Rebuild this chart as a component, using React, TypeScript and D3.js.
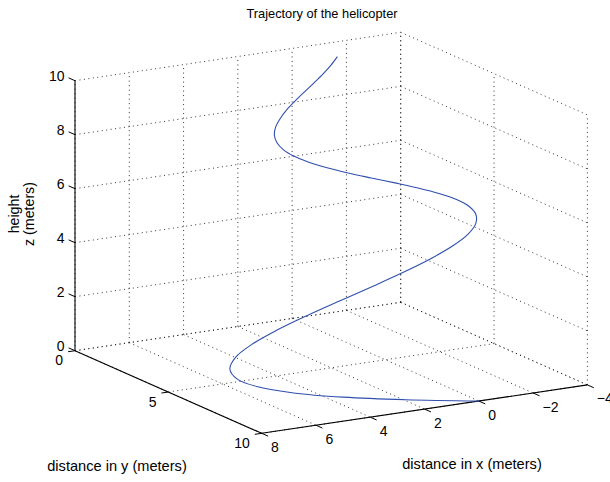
import React, { useRef, useEffect } from "react";
import * as d3 from "d3";

// trajectory samples (t = 0 .. 10, step 0.25)
const zHeight = [
  0, 0.25, 0.5, 0.75, 1, 1.25, 1.5, 1.75, 2, 2.25, 2.5, 2.75, 3, 3.25, 3.5,
  3.75, 4, 4.25, 4.5, 4.75, 5, 5.25, 5.5, 5.75, 6, 6.25, 6.5, 6.75, 7, 7.25,
  7.5, 7.75, 8, 8.25, 8.5, 8.75, 9, 9.25, 9.5, 9.75, 10,
];
const xDist = [
  0, 2.353, 4.338, 5.867, 6.889, 7.391, 7.39, 6.934, 6.095, 4.961, 3.63,
  2.202, 0.774, -0.565, -1.742, -2.7, -3.401, -3.825, -3.974, -3.865, -3.528,
  -3.006, -2.349, -1.609, -0.842, -0.095, 0.586, 1.167, 1.62, 1.93, 2.093,
  2.114, 1.998, 1.765, 1.459, 1.082, 0.681, 0.274, -0.112, -0.453, -0.736,
];
const yDist = [
  10, 9.512, 9.048, 8.607, 8.187, 7.788, 7.408, 7.047, 6.703, 6.376, 6.065,
  5.77, 5.488, 5.221, 4.966, 4.724, 4.493, 4.274, 4.066, 3.867, 3.679, 3.499,
  3.329, 3.166, 3.012, 2.865, 2.725, 2.592, 2.466, 2.346, 2.231, 2.123, 2.019,
  1.921, 1.827, 1.738, 1.653, 1.572, 1.496, 1.423, 1.353,
];

const xTicks = [8, 6, 4, 2, 0, -2, -4];
const yTicks = [0, 5, 10];
const zTicks = [0, 2, 4, 6, 8, 10];

const fmt = (v: number) => (v < 0 ? "\u2212" + Math.abs(v) : String(v));

const App: React.FC = () => {
  const ref = useRef<SVGSVGElement | null>(null);

  useEffect(() => {
    if (!ref.current) return;
    const svg = d3.select(ref.current);
    svg.selectAll("*").remove();

    const width = 610;
    const height = 482;
    svg.attr("width", width).attr("height", height);

    // each axis maps to a fraction of its box edge
    const xs = d3.scaleLinear().domain([8, -4]).range([0, 1]);
    const ys = d3.scaleLinear().domain([0, 10]).range([0, 1]);
    const zs = d3.scaleLinear().domain([0, 10]).range([0, 1]);

    // box corner (x=8, y=0, z=0) and edge vectors on screen
    const origin = [75, 350.7];
    const ex = [325.7, -48.4];
    const ey = [186.7, 82.6];
    const ez = [0, -270];

    const proj = (x: number, y: number, z: number): [number, number] => [
      origin[0] + xs(x) * ex[0] + ys(y) * ey[0] + zs(z) * ez[0],
      origin[1] + xs(x) * ex[1] + ys(y) * ey[1] + zs(z) * ez[1],
    ];

    const font = "'Liberation Sans', Arial, Helvetica, sans-serif";

    // grid lines on the floor and on the two back walls
    const segs: [number, number, number][][] = [];
    xTicks.forEach((x) => {
      segs.push([[x, 0, 0], [x, 10, 0]]);
      segs.push([[x, 0, 0], [x, 0, 10]]);
    });
    yTicks.forEach((y) => {
      segs.push([[8, y, 0], [-4, y, 0]]);
      segs.push([[-4, y, 0], [-4, y, 10]]);
    });
    zTicks.forEach((z) => {
      segs.push([[8, 0, z], [-4, 0, z]]);
      segs.push([[-4, 0, z], [-4, 10, z]]);
    });

    svg
      .append("g")
      .selectAll("line")
      .data(segs)
      .enter()
      .append("line")
      .attr("x1", (d) => proj(...d[0])[0])
      .attr("y1", (d) => proj(...d[0])[1])
      .attr("x2", (d) => proj(...d[1])[0])
      .attr("y2", (d) => proj(...d[1])[1])
      .attr("stroke", "#111")
      .attr("stroke-width", 0.85)
      .attr("stroke-dasharray", "1,3.5");

    const axes = svg.append("g").attr("stroke", "#000").attr("fill", "none");
    const seg = (a: [number, number], b: [number, number], w = 1) =>
      axes
        .append("line")
        .attr("x1", a[0])
        .attr("y1", a[1])
        .attr("x2", b[0])
        .attr("y2", b[1])
        .attr("stroke-width", w);

    // axis lines
    seg(proj(8, 0, 0), proj(8, 0, 10), 1.1);
    seg(proj(8, 0, 0), proj(8, 10, 0), 1.1);
    seg(proj(8, 10, 0), proj(-4, 10, 0), 1.1);

    const tickLen = 7;
    const unit = (v: number[]) => {
      const l = Math.hypot(v[0], v[1]);
      return [v[0] / l, v[1] / l];
    };
    const uy = unit(ey);
    const ux = unit(ex);

    const labels = svg
      .append("g")
      .attr("font-family", font)
      .attr("font-size", 14)
      .attr("fill", "#000");

    // z ticks point back along -y
    zTicks.forEach((z) => {
      const p = proj(8, 0, z);
      const q: [number, number] = [p[0] - uy[0] * tickLen, p[1] - uy[1] * tickLen];
      seg(p, q);
      labels
        .append("text")
        .attr("x", q[0] - 4)
        .attr("y", q[1] - 1)
        .attr("text-anchor", "end")
        .attr("dominant-baseline", "middle")
        .text(fmt(z));
    });

    // y ticks point toward -x direction on screen (x increasing)
    yTicks.forEach((y) => {
      const p = proj(8, y, 0);
      const q: [number, number] = [p[0] - ux[0] * tickLen, p[1] - ux[1] * tickLen];
      seg(p, q);
      labels
        .append("text")
        .attr("x", q[0] - 5)
        .attr("y", q[1] + 10)
        .attr("text-anchor", "end")
        .attr("dominant-baseline", "middle")
        .text(fmt(y));
    });

    // x ticks point outward along +y
    xTicks.forEach((x) => {
      const p = proj(x, 10, 0);
      const q: [number, number] = [p[0] + uy[0] * tickLen, p[1] + uy[1] * tickLen];
      seg(p, q);
      labels
        .append("text")
        .attr("x", q[0] + 3)
        .attr("y", q[1] + 12)
        .attr("text-anchor", "start")
        .attr("dominant-baseline", "middle")
        .text(fmt(x));
    });

    // trajectory
    const pts = zHeight.map((z, i) => proj(xDist[i], yDist[i], z));
    svg
      .append("path")
      .attr("d", d3.line().curve(d3.curveCatmullRom)(pts) || "")
      .attr("fill", "none")
      .attr("stroke", "#2f4fae")
      .attr("stroke-width", 1.1);

    // titles
    const t = svg.append("g").attr("font-family", font).attr("fill", "#000");
    t.append("text")
      .attr("x", 322)
      .attr("y", 15)
      .attr("text-anchor", "middle")
      .attr("dominant-baseline", "middle")
      .attr("font-size", 12.8)
      .text("Trajectory of the helicopter");
    t.append("text")
      .attr("x", 117)
      .attr("y", 467)
      .attr("text-anchor", "middle")
      .attr("dominant-baseline", "middle")
      .attr("font-size", 14.6)
      .text("distance in y (meters)");
    t.append("text")
      .attr("x", 472)
      .attr("y", 465)
      .attr("text-anchor", "middle")
      .attr("dominant-baseline", "middle")
      .attr("font-size", 14.6)
      .text("distance in x (meters)");
    const zl = t
      .append("text")
      .attr("transform", "translate(23,214) rotate(-90)")
      .attr("text-anchor", "middle")
      .attr("font-size", 14.2);
    zl.append("tspan").attr("x", 0).attr("dy", "-0.25em").text("height");
    zl.append("tspan").attr("x", 0).attr("dy", "1.05em").text("z (meters)");
  }, []);

  return (
    <div style={{ position: "absolute", left: 0, top: 0 }}>
      <svg ref={ref} style={{ display: "block" }} />
    </div>
  );
};

export default App;
